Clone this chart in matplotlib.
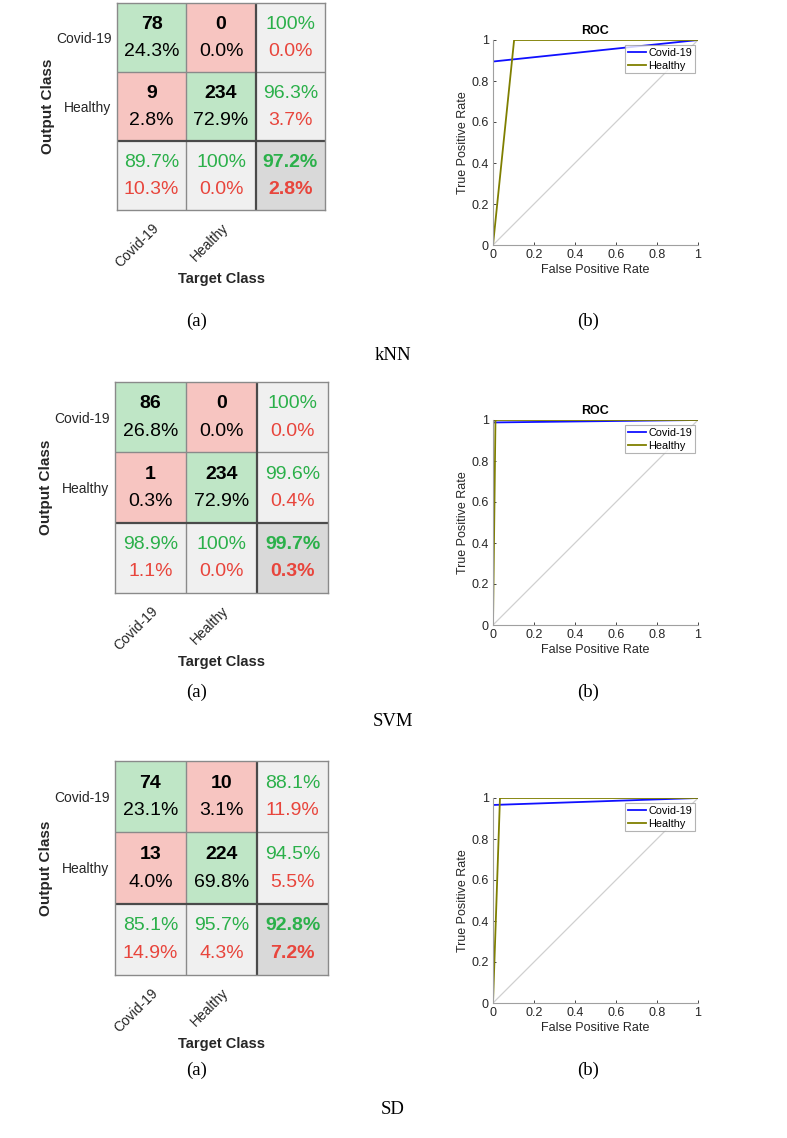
import numpy as np
import matplotlib
matplotlib.use("Agg")
import matplotlib.pyplot as plt

plt.rcParams['font.family'] = ['Liberation Sans', 'DejaVu Sans']

# confusion matrices: rows = output class, cols = target class
class_names = ["Covid-19", "Healthy"]
knn_cm = [[78, 0], [9, 234]]
svm_cm = [[86, 0], [1, 234]]
sd_cm = [[74, 10], [13, 224]]

# ROC curve points (fpr, tpr)
knn_covid_fpr = [0, 0, 1]
knn_covid_tpr = [0, 0.895, 1]
knn_healthy_fpr = [0, 0.103, 1]
knn_healthy_tpr = [0, 1, 1]

svm_covid_fpr = [0, 0, 1]
svm_covid_tpr = [0, 0.988, 1]
svm_healthy_fpr = [0, 0.012, 1]
svm_healthy_tpr = [0, 1, 1]

sd_covid_fpr = [0, 0, 1]
sd_covid_tpr = [0, 0.966, 1]
sd_healthy_fpr = [0, 0.034, 1]
sd_healthy_tpr = [0, 1, 1]

method_names = ["kNN", "SVM", "SD"]

W, H = 787, 1138
fig = plt.figure(figsize=(W / 100, H / 100), dpi=100)


def px_axes(x0, y0, x1, y1):
    return fig.add_axes([x0 / W, 1 - y1 / H, (x1 - x0) / W, (y1 - y0) / H])


GREEN_CELL = "#bfe6c6"
RED_CELL = "#f7c5c1"
GREY_CELL = "#f0f0f0"
CORNER_CELL = "#d9d9d9"
GREEN_TXT = "#2bb04a"
RED_TXT = "#e8453c"
FS = 14


def fmt(p):
    if round(p, 1) == 100:
        return "100%"
    return "%.1f%%" % p


def draw_cm(ax, cm):
    cm = np.array(cm, dtype=float)
    n = cm.shape[0]
    total = cm.sum()
    colors = np.ones((n + 1, n + 1, 3))
    for i in range(n + 1):
        for j in range(n + 1):
            if i < n and j < n:
                c = GREEN_CELL if i == j else RED_CELL
            elif i == n and j == n:
                c = CORNER_CELL
            else:
                c = GREY_CELL
            colors[i, j] = matplotlib.colors.to_rgb(c)
    ax.imshow(colors, extent=(-0.5, n + 0.5, n + 0.5, -0.5), aspect='auto')

    for i in range(n):
        for j in range(n):
            ax.text(j, i - 0.19, "%d" % cm[i, j], ha='center', va='center',
                    fontsize=FS, fontweight='bold', color='black')
            ax.text(j, i + 0.2, fmt(100 * cm[i, j] / total), ha='center',
                    va='center', fontsize=FS, color='black')
    # row summary (precision)
    for i in range(n):
        p = 100 * cm[i, i] / cm[i].sum()
        ax.text(n, i - 0.19, fmt(p), ha='center', va='center', fontsize=FS, color=GREEN_TXT)
        ax.text(n, i + 0.2, fmt(100 - p), ha='center', va='center', fontsize=FS, color=RED_TXT)
    # column summary (recall)
    for j in range(n):
        p = 100 * cm[j, j] / cm[:, j].sum()
        ax.text(j, n - 0.19, fmt(p), ha='center', va='center', fontsize=FS, color=GREEN_TXT)
        ax.text(j, n + 0.2, fmt(100 - p), ha='center', va='center', fontsize=FS, color=RED_TXT)
    acc = 100 * np.trace(cm) / total
    ax.text(n, n - 0.19, fmt(acc), ha='center', va='center', fontsize=FS,
            fontweight='bold', color=GREEN_TXT)
    ax.text(n, n + 0.2, fmt(100 - acc), ha='center', va='center', fontsize=FS,
            fontweight='bold', color=RED_TXT)

    for k in range(1, n):
        ax.axhline(k - 0.5, color='#8a8a8a', lw=1)
        ax.axvline(k - 0.5, color='#8a8a8a', lw=1)
    ax.axhline(n - 0.5, color='#4a4a4a', lw=1.6)
    ax.axvline(n - 0.5, color='#4a4a4a', lw=1.6)
    for s in ax.spines.values():
        s.set_color('#8a8a8a')
        s.set_linewidth(1)

    ax.set_xlim(-0.5, n + 0.5)
    ax.set_ylim(n + 0.5, -0.5)
    ax.set_xticks(range(n))
    ax.set_xticklabels(class_names, rotation=45, ha='right', va='top',
                       rotation_mode='anchor', fontsize=10, color='#262626')
    ax.set_yticks(range(n))
    ax.set_yticklabels(class_names, fontsize=10, color='#262626')
    ax.tick_params(length=0, pad=4)
    ax.tick_params(axis='x', pad=8)
    ax.set_xlabel("Target Class", fontsize=10.5, fontweight='bold', color='#262626', labelpad=1)
    ax.set_ylabel("Output Class", fontsize=11, fontweight='bold', color='#262626', labelpad=1)


def draw_roc(ax, covid, healthy, title):
    ax.plot([0, 1], [0, 1], color='#d0d0d0', lw=0.9)
    ax.plot(covid[0], covid[1], color='#1010ff', lw=1.3, label=class_names[0])
    ax.plot(healthy[0], healthy[1], color='#7f7f00', lw=1.3, label=class_names[1])
    ax.set_xlim(0, 1)
    ax.set_ylim(0, 1)
    ticks = [0, 0.2, 0.4, 0.6, 0.8, 1]
    labels = ["0", "0.2", "0.4", "0.6", "0.8", "1"]
    ax.set_xticks(ticks)
    ax.set_xticklabels(labels)
    ax.set_yticks(ticks)
    ax.set_yticklabels(labels)
    ax.tick_params(direction='in', length=2.5, labelsize=9, colors='#262626',
                   pad=3, width=0.6)
    for side in ('top', 'right'):
        ax.spines[side].set_visible(False)
    for side in ('left', 'bottom'):
        ax.spines[side].set_color('#a0a0a0')
        ax.spines[side].set_linewidth(0.8)
    ax.set_xlabel("False Positive Rate", fontsize=9, color='#262626', labelpad=2)
    ax.set_ylabel("True Positive Rate", fontsize=9, color='#262626', labelpad=2)
    if title:
        ax.set_title(title, fontsize=9, fontweight='bold', pad=4)
    leg = ax.legend(loc='upper right', bbox_to_anchor=(0.985, 0.975), fontsize=7.8,
                    frameon=True, fancybox=False, handlelength=1.7,
                    handletextpad=0.2, borderpad=0.25, labelspacing=0.25,
                    borderaxespad=0)
    leg.get_frame().set_edgecolor('#a0a0a0')
    leg.get_frame().set_linewidth(0.8)


cm_boxes = [(117, 3, 325, 210), (115, 382, 328, 593), (115, 761, 328, 975)]
roc_boxes = [(493, 40, 698, 245), (493, 420, 698, 625), (493, 798, 698, 1003)]
cms = [knn_cm, svm_cm, sd_cm]
rocs = [((knn_covid_fpr, knn_covid_tpr), (knn_healthy_fpr, knn_healthy_tpr)),
        ((svm_covid_fpr, svm_covid_tpr), (svm_healthy_fpr, svm_healthy_tpr)),
        ((sd_covid_fpr, sd_covid_tpr), (sd_healthy_fpr, sd_healthy_tpr))]
titles = ["ROC", "ROC", ""]
sub_y = [321, 692, 1070]
name_y = [355, 722, 1110]

for k in range(3):
    draw_cm(px_axes(*cm_boxes[k]), cms[k])
    draw_roc(px_axes(*roc_boxes[k]), rocs[k][0], rocs[k][1], titles[k])
    fig.text(197 / W, 1 - sub_y[k] / H, "(a)", ha='center', va='center',
             fontsize=13.5, family='Liberation Serif')
    fig.text(588 / W, 1 - sub_y[k] / H, "(b)", ha='center', va='center',
             fontsize=13.5, family='Liberation Serif')
    fig.text(393 / W, 1 - name_y[k] / H, method_names[k], ha='center', va='center',
             fontsize=13.5, family='Liberation Serif')

fig.savefig("out.png", dpi=100)
